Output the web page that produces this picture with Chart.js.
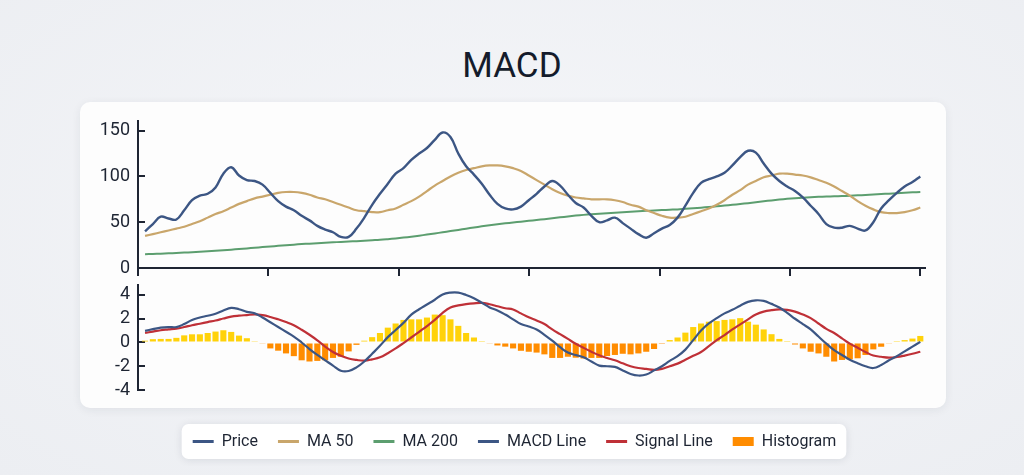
<!DOCTYPE html>
<html>
<head>
<meta charset="utf-8">
<script src="https://cdn.jsdelivr.net/npm/chart.js@4.4.1/dist/chart.umd.min.js"></script>
<style>
  html, body { margin: 0; padding: 0; }
  body {
    width: 1024px; height: 475px; position: relative; overflow: hidden;
    background: radial-gradient(ellipse at 50% 45%, #f5f6f9 0%, #eceef2 100%);
    font-family: Roboto, "Noto Sans", sans-serif;
  }
  #title {
    position: absolute; left: 0; top: 45px; width: 1024px; text-align: center;
    font-size: 35px; line-height: 42px; color: #141b2b; font-weight: 400;
  }
  #card {
    position: absolute; left: 80px; top: 102px; width: 866px; height: 306px;
    background: #fdfdfd; border-radius: 10px;
    box-shadow: 0 2px 10px rgba(30, 40, 60, 0.07);
  }
  canvas { position: absolute; }
  #priceChart { left: 80px; top: 91px; }
  #macdChart { left: 80px; top: 255px; }
</style>
</head>
<body>
<div id="title">MACD</div>
<div id="card"></div>
<canvas id="priceChart" width="866" height="207"></canvas>
<canvas id="macdChart" width="866" height="211"></canvas>
<script>
// periodos (indice de cada vela)
const periods = Array.from({ length: 100 }, (_, i) => i);

const price = [40,48,56,54,53,63,74,79,81,88, 103,110,101,96,95,91,82,73,67,63,
  57,52,46,42,39,34,34,43,55,69, 81,92,103,109,118,125,131,140,148,143,
  125,111,102,92,80,70,65,64,67,74, 81,89,95,90,80,71,66,57,50,52,
  55,49,43,37,33,38,43,47,55,68, 82,93,97,100,104,112,121,128,126,114,
  103,95,89,84,77,68,59,48,44,44, 46,43,41,50,65,74,82,89,94,100];

const ma50 = [35,37,39,41,43,45,48,51,55,59, 62,66,70,73,76,78,80,82,83,83,
  82,80,77,75,72,69,66,63,62,61, 61,63,65,69,73,78,84,90,95,100,
  104,107,109,111,112,112,111,109,106,101, 96,91,86,82,79,77,76,75,75,75,
  74,72,69,67,63,60,57,55,55,56, 59,62,65,69,74,80,85,91,95,99,
  101,103,103,102,101,99,96,93,89,84, 79,73,68,64,61,60,60,61,63,66];

const ma200 = [15,15.3,15.6,16,16.4,16.8,17.2,17.7,18.2,18.8, 19.4,20,20.7,21.4,22.1,22.8,23.5,24.2,24.9,25.5,
  26.1,26.6,27.1,27.6,28,28.5,28.9,29.3,29.8,30.3, 30.8,31.5,32.3,33.2,34.2,35.3,36.5,37.7,39,40.3,
  41.6,42.9,44.2,45.5,46.7,47.8,48.8,49.7,50.6,51.5, 52.4,53.3,54.3,55.3,56.3,57.2,58,58.7,59.3,59.9,
  60.4,60.9,61.4,61.9,62.4,62.8,63.2,63.6,64,64.6, 65.2,65.9,66.6,67.4,68.2,69,69.9,70.8,71.8,72.8,
  73.8,74.7,75.5,76.2,76.8,77.3,77.7,78,78.3,78.6, 78.9,79.3,79.7,80.2,80.7,81.2,81.7,82.2,82.6,83];

const macdLine = [0.98,1.12,1.25,1.3,1.3,1.55,1.9,2.1,2.25,2.42, 2.7,2.92,2.8,2.58,2.45,2.1,1.7,1.3,0.9,0.5,
  0,-0.55,-1.05,-1.5,-1.95,-2.38,-2.4,-2.1,-1.6,-0.95, -0.28,0.45,1.05,1.65,2.35,2.8,3.2,3.6,4.05,4.2,
  4.2,4.0,3.72,3.35,2.95,2.7,2.35,1.95,1.55,1.35, 1.1,0.65,0.15,-0.4,-0.85,-1.05,-1.25,-1.6,-1.95,-2.0,
  -2.05,-2.35,-2.65,-2.78,-2.7,-2.35,-2.0,-1.55,-1.15,-0.6, 0.2,1.0,1.6,2.05,2.45,2.75,3.1,3.42,3.55,3.5,
  3.25,2.95,2.5,2.0,1.55,1.1,0.5,-0.1,-0.65,-1.05, -1.45,-1.75,-2.0,-2.15,-1.9,-1.5,-1.15,-0.75,-0.35,0.05];

const signalLine = [0.8,0.92,1.03,1.1,1.17,1.3,1.45,1.58,1.72,1.85, 2.02,2.18,2.26,2.31,2.36,2.3,2.15,1.95,1.72,1.45,
  1.07,0.65,0.18,-0.35,-0.8,-1.12,-1.35,-1.47,-1.53,-1.42, -1.25,-0.9,-0.5,-0.05,0.42,0.9,1.38,1.9,2.5,2.95,
  3.12,3.23,3.3,3.33,3.22,3.05,2.88,2.78,2.45,2.12, 1.85,1.55,1.1,0.7,0.3,-0.1,-0.45,-0.78,-1.08,-1.3,
  -1.5,-1.75,-2.0,-2.15,-2.22,-2.3,-2.22,-2.0,-1.78,-1.45, -1.12,-0.8,-0.3,0.2,0.62,1.1,1.53,1.95,2.35,2.6,
  2.72,2.78,2.74,2.6,2.35,2.05,1.6,1.15,0.8,0.35, -0.1,-0.45,-0.8,-1.1,-1.2,-1.27,-1.22,-1.1,-0.95,-0.78];

const histogram = [0.15,0.28,0.3,0.3,0.39,0.6,0.69,0.69,0.8,0.92, 1.03,0.89,0.58,0.36,0.11,-0.1,-0.5,-0.69,-0.92,-1.15,
  -1.5,-1.6,-1.55,-1.5,-1.3,-1.2,-0.75,-0.2,0.15,0.45, 0.8,1.25,1.6,1.9,1.95,1.95,2.1,2.35,2.3,1.95,
  1.4,0.8,0.42,0.05,-0.1,-0.25,-0.35,-0.5,-0.7,-0.78, -0.85,-1.0,-1.3,-1.3,-1.2,-1.28,-1.35,-1.3,-1.3,-1.14,
  -1.05,-0.95,-1.0,-0.92,-0.78,-0.55,-0.05,0.2,0.42,0.83, 1.3,1.6,1.75,1.8,1.9,1.95,2.05,1.75,1.5,1.1,
  0.7,0.3,0.05,-0.17,-0.5,-0.78,-0.92,-1.2,-1.6,-1.47, -1.42,-1.33,-1.05,-0.58,-0.36,-0.1,0.05,0.2,0.33,0.55];

// marcas del eje x (sin texto)
const xTickValues = [-0.9, 15.75, 32.4, 49.05, 65.7, 82.35, 99];
const priceTicks = [0, 50, 100, 150];
const macdTicks = [-4, -2, 0, 2, 4];

const colors = {
  price: '#3c5684', ma50: '#c9a66b', ma200: '#5c9e6f',
  macd: '#3c5684', signal: '#bf3037', up: '#ffd20a', down: '#ff8c00',
  axis: '#1e2533'
};

const legendEntries = [
  { name: 'Price', color: colors.price, kind: 'line' },
  { name: 'MA 50', color: colors.ma50, kind: 'line' },
  { name: 'MA 200', color: colors.ma200, kind: 'line' },
  { name: 'MACD Line', color: colors.macd, kind: 'line' },
  { name: 'Signal Line', color: colors.signal, kind: 'line' },
  { name: 'Histogram', color: colors.down, kind: 'bar' }
];

const tickFont = { family: 'Roboto', size: 18 };

const lineDs = (label, data, color, width) => ({
  type: 'line', label, data, borderColor: color, backgroundColor: color,
  borderWidth: width, pointRadius: 0, tension: 0.4, fill: false
});

// Fondo blanco de la leyenda
const legendBackdrop = {
  id: 'legendBackdrop',
  beforeDraw(chart) {
    const lg = chart.legend;
    if (!lg || !lg.legendHitBoxes || !lg.legendHitBoxes.length) return;
    const boxes = lg.legendHitBoxes;
    const last = boxes[boxes.length - 1];
    const left = boxes[0].left - 11;
    const right = last.left + last.width + 10;
    const mid = boxes[0].top + boxes[0].height / 2;
    const ctx = chart.ctx;
    ctx.save();
    ctx.shadowColor = 'rgba(20, 30, 50, 0.10)';
    ctx.shadowBlur = 8;
    ctx.shadowOffsetY = 1;
    ctx.fillStyle = '#ffffff';
    ctx.beginPath();
    ctx.roundRect(left, mid - 17.5, right - left, 35, 7);
    ctx.fill();
    ctx.restore();
  }
};

new Chart(document.getElementById('priceChart').getContext('2d'), {
  type: 'line',
  data: {
    labels: periods,
    datasets: [
      lineDs('Price', price, colors.price, 2.4),
      lineDs('MA 50', ma50, colors.ma50, 2.2),
      lineDs('MA 200', ma200, colors.ma200, 2)
    ]
  },
  options: {
    responsive: false,
    animation: false,
    layout: { padding: { top: 30, right: 21, left: 0, bottom: 0 } },
    plugins: { legend: { display: false }, tooltip: { enabled: false } },
    scales: {
      x: {
        type: 'linear', min: -0.9, max: 99.6, offset: false,
        afterBuildTicks: (s) => { s.ticks = xTickValues.map(v => ({ value: v })); },
        afterFit: (s) => { s.height = 30; },
        ticks: { display: false },
        grid: { drawOnChartArea: false, drawTicks: true, tickLength: 8, color: colors.axis, lineWidth: 2 },
        border: { display: true, color: colors.axis, width: 2 }
      },
      y: {
        min: 0, max: 160.5,
        afterBuildTicks: (s) => { s.ticks = priceTicks.map(v => ({ value: v })); },
        afterFit: (s) => { s.width = 58; },
        ticks: { font: tickFont, color: colors.axis, padding: 15, autoSkip: false },
        grid: { drawOnChartArea: false, drawTicks: true, tickLength: -7, color: colors.axis, lineWidth: 2 },
        border: { display: true, color: colors.axis, width: 2 }
      }
    }
  }
});

new Chart(document.getElementById('macdChart').getContext('2d'), {
  type: 'line',
  data: {
    labels: periods,
    datasets: [
      lineDs('MACD Line', macdLine, colors.macd, 2.2),
      lineDs('Signal Line', signalLine, colors.signal, 2.2),
      {
        type: 'bar', label: 'Histogram', data: histogram,
        backgroundColor: histogram.map(v => v >= 0 ? colors.up : colors.down),
        borderWidth: 0, barPercentage: 0.78, categoryPercentage: 1
      }
    ]
  },
  options: {
    responsive: false,
    animation: false,
    layout: { padding: { top: 30, right: 21, left: 24, bottom: 6.5 } },
    plugins: {
      tooltip: { enabled: false },
      legend: {
        position: 'bottom',
        labels: {
          usePointStyle: true, pointStyleWidth: 21, boxHeight: 9, padding: 20,
          font: { family: 'Roboto', size: 16 }, color: colors.axis,
          generateLabels: () => legendEntries.map(e => ({
            text: e.name, fillStyle: e.color, strokeStyle: e.color,
            lineWidth: e.kind === 'bar' ? 0 : 3,
            pointStyle: e.kind === 'bar' ? 'rect' : 'line',
            hidden: false, fontColor: colors.axis
          }))
        }
      }
    },
    scales: {
      x: {
        type: 'linear', min: -0.9, max: 99.6, offset: false,
        afterFit: (s) => { s.height = 23.5; },
        ticks: { display: false },
        grid: { display: false, offset: false },
        border: { display: false }
      },
      y: {
        min: -4, max: 4.84,
        afterBuildTicks: (s) => { s.ticks = macdTicks.map(v => ({ value: v })); },
        afterFit: (s) => { s.width = 34; },
        ticks: { font: tickFont, color: colors.axis, padding: 15, autoSkip: false },
        grid: { drawOnChartArea: false, drawTicks: true, tickLength: -7, color: colors.axis, lineWidth: 2 },
        border: { display: true, color: colors.axis, width: 2 }
      }
    }
  },
  plugins: [legendBackdrop]
});
</script>
</body>
</html>
